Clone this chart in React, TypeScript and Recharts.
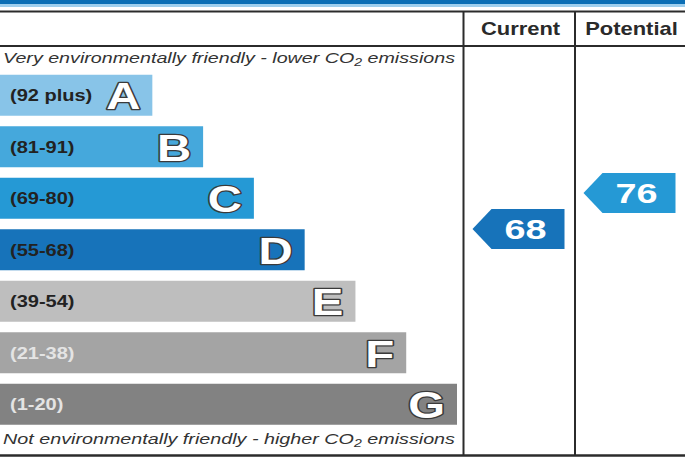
import React from "react";
import { BarChart, Bar, Cell, XAxis, YAxis, ScatterChart, Scatter } from "recharts";

const bands = ["A", "B", "C", "D", "E", "F", "G"];
const ranges = ["(92 plus)", "(81-91)", "(69-80)", "(55-68)", "(39-54)", "(21-38)", "(1-20)"];
const bandMin = [92, 81, 69, 55, 39, 21, 1];
const barLengths = [3, 4, 5, 6, 7, 8, 9];
const bandColors = ["#88c4e8", "#45a8dc", "#2599d5", "#1773ba", "#bebebe", "#a4a4a4", "#828282"];
const rangeTextColors = ["#222", "#222", "#222", "#222", "#222", "#e4e4e4", "#e4e4e4"];

const columns = ["Current", "Potential"];
const ratings = [68, 76];

const W = 685;
const H = 459;
const FONT = "'Liberation Sans', Arial, sans-serif";
const LINE = "#2b2b2b";

const barData = bands.map((band, i) => ({ band, length: barLengths[i], range: ranges[i] }));
const arrowData = columns.map((column, i) => ({ column, score: ratings[i] }));

function bandIndex(score: number) {
  const i = bandMin.findIndex((m) => score >= m);
  return i < 0 ? bands.length - 1 : i;
}

function Stretch({ x, y, sx, anchor = "start", children, ...rest }: any) {
  return (
    <text transform={`translate(${x},${y}) scale(${sx},1)`} textAnchor={anchor} fontFamily={FONT} {...rest}>
      {children}
    </text>
  );
}

function BandLabel(props: any) {
  const { x, y, width, height, index } = props;
  const cy = y + height / 2;
  return (
    <g>
      <Stretch x={x + 10} y={cy + 6} sx={1.25} fontSize={16} fontWeight="bold" fill={rangeTextColors[index]}>
        {ranges[index]}
      </Stretch>
      <Stretch
        x={x + width - 12}
        y={cy + 14}
        sx={1.28}
        anchor="end"
        fontSize={37}
        fontWeight="bold"
        fill="#fff"
        stroke="#3a3a3a"
        strokeWidth={2.6}
        strokeLinejoin="round"
        paintOrder="stroke"
      >
        {bands[index]}
      </Stretch>
    </g>
  );
}

function Arrow(props: any) {
  const { cx, cy, payload } = props;
  const color = bandColors[bandIndex(payload.score)];
  const pts = [
    [cx - 46, cy],
    [cx - 27, cy - 20],
    [cx + 46, cy - 20],
    [cx + 46, cy + 20],
    [cx - 27, cy + 20],
  ]
    .map((p) => p.join(","))
    .join(" ");
  return (
    <g>
      <polygon points={pts} fill={color} />
      <Stretch x={cx + 7} y={cy + 10} sx={1.35} anchor="middle" fontSize={28} fontWeight="bold" fill="#fff">
        {payload.score}
      </Stretch>
    </g>
  );
}

function HeaderTick(props: any) {
  const { x, payload } = props;
  return (
    <Stretch x={x + 2} y={34.5} sx={1.22} anchor="middle" fontSize={18} fontWeight="bold" fill="#2a2a2a">
      {payload.value}
    </Stretch>
  );
}

function Frame() {
  return (
    <svg width={W} height={H} style={{ position: "absolute", left: 0, top: 0 }}>
      <rect x={0} y={0} width={W} height={4} fill="#0b6eb5" />
      <rect x={0} y={4} width={W} height={3} fill="#9fcfee" />
      <line x1={0} x2={W} y1={11.5} y2={11.5} stroke={LINE} strokeWidth={2} />
      <line x1={0} x2={W} y1={46} y2={46} stroke={LINE} strokeWidth={2} />
      <line x1={463.5} x2={463.5} y1={11} y2={456} stroke={LINE} strokeWidth={2} />
      <line x1={575} x2={575} y1={11} y2={456} stroke={LINE} strokeWidth={2} />
      <line x1={0} x2={W} y1={455.5} y2={455.5} stroke={LINE} strokeWidth={2.5} />
      <text x={3} y={63} fontFamily={FONT} fontStyle="italic" fontSize={14} fill="#333" textLength={452} lengthAdjust="spacingAndGlyphs">
        Very environmentally friendly - lower CO
        <tspan fontSize={10} dy={3}>2</tspan>
        <tspan dy={-3}> emissions</tspan>
      </text>
      <text x={3} y={444} fontFamily={FONT} fontStyle="italic" fontSize={14} fill="#333" textLength={452} lengthAdjust="spacingAndGlyphs">
        Not environmentally friendly - higher CO
        <tspan fontSize={10} dy={3}>2</tspan>
        <tspan dy={-3}> emissions</tspan>
      </text>
    </svg>
  );
}

export default function App() {
  return (
    <div style={{ position: "absolute", left: 0, top: 0, width: W, height: H, background: "#fff" }}>
      <Frame />
      <div style={{ position: "absolute", left: 0, top: 0 }}>
        <BarChart
          width={W}
          height={H}
          data={barData}
          layout="vertical"
          margin={{ top: 69.75, right: 228, bottom: 28.75, left: 0 }}
        >
          <XAxis type="number" domain={[0, 9]} hide />
          <YAxis type="category" dataKey="band" hide />
          <Bar dataKey="length" barSize={41} isAnimationActive={false} label={(p: any) => <BandLabel {...p} />}>
            {barData.map((d, i) => (
              <Cell key={d.band} fill={bandColors[i]} />
            ))}
          </Bar>
        </BarChart>
      </div>
      <div style={{ position: "absolute", left: 463, top: 0 }}>
        <ScatterChart width={222} height={H} margin={{ top: 39.75, right: 0, bottom: 28.75, left: 0 }}>
          <XAxis
            type="category"
            dataKey="column"
            orientation="top"
            height={30}
            axisLine={false}
            tickLine={false}
            tick={(p: any) => <HeaderTick {...p} />}
            interval={0}
          />
          <YAxis type="number" dataKey="score" domain={[23.3, 103.4]} hide />
          <Scatter data={arrowData} isAnimationActive={false} shape={(p: any) => <Arrow {...p} />} />
        </ScatterChart>
      </div>
    </div>
  );
}
